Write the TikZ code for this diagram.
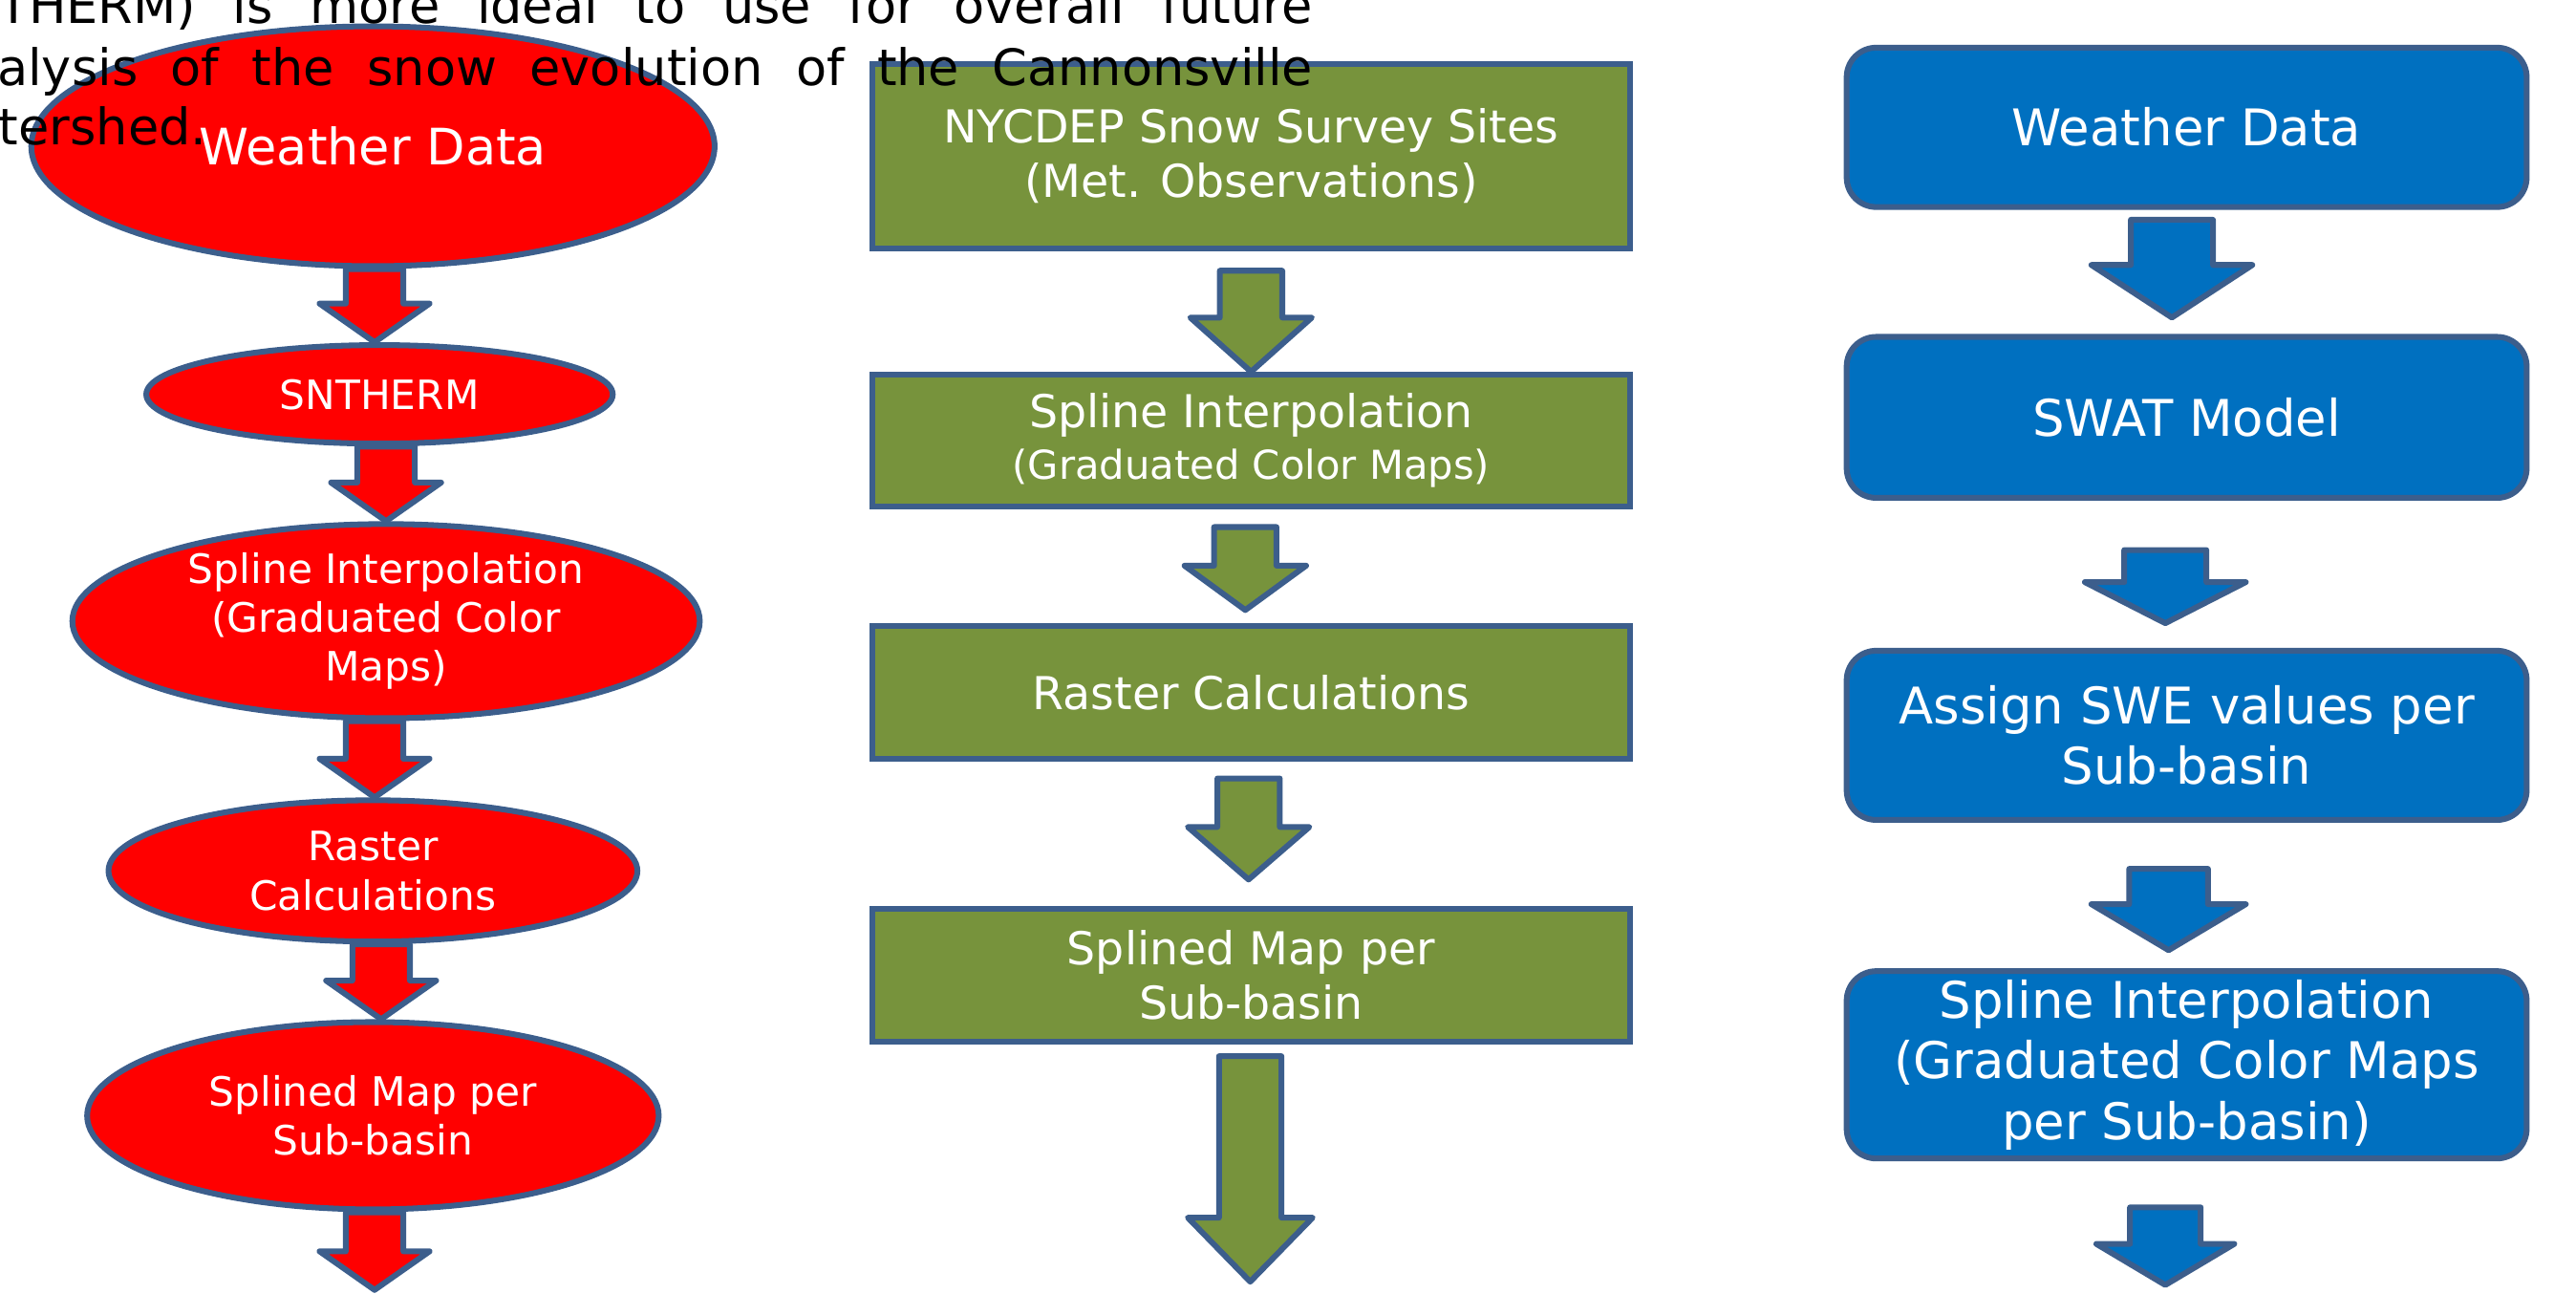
\documentclass[tikz,border=0pt]{standalone}
\usepackage{fontspec}
\setmainfont{DejaVu Sans}
\usetikzlibrary{calc,shapes.geometric}
\definecolor{edgeblue}{HTML}{3C5E8C}
\definecolor{boxgreen}{HTML}{77933C}
\definecolor{boxblue}{HTML}{0070C0}
% block arrow: [style](top)(tip)(shaft half width:head half width:head length)
\def\fatarrow[#1](#2)(#3)(#4:#5:#6){\draw[#1] let \p1=(#2), \p2=(#3) in (\x2-#4,\y1) -- (\x2+#4,\y1) -- (\x2+#4,\y2+#6) -- (\x2+#5,\y2+#6) -- (\x2,\y2) -- (\x2-#5,\y2+#6) -- (\x2-#4,\y2+#6) -- cycle;}

\begin{document}
\begin{tikzpicture}[x=0.02cm, y=-0.02cm,
	redell/.style={ellipse, draw=edgeblue, line width=2pt, fill=red, text=white, inner sep=0pt, align=center, font=\fontsize{14}{17}\selectfont},
	greenbox/.style={rectangle, draw=edgeblue, line width=2pt, fill=boxgreen, text=white, minimum width=9.22cm, inner sep=0pt, align=center, font=\fontsize{15.7}{18.8}\selectfont},
	bluebox/.style={rectangle, rounded corners=0.36cm, draw=edgeblue, line width=2pt, fill=boxblue, text=white, minimum width=8.28cm, inner sep=0pt, align=center, font=\fontsize{17.5}{21}\selectfont},
	redarr/.style={draw=edgeblue, line width=2pt, line join=round, fill=red},
	greenarr/.style={draw=edgeblue, line width=2pt, line join=round, fill=boxgreen},
	bluearr/.style={draw=edgeblue, line width=2pt, line join=round, fill=boxblue},
	para/.style={inner sep=0pt, font=\fontsize{17.4}{21}\selectfont}]
		\useasboundingbox (0,0) rectangle (1568,787);
		\clip (0,0) rectangle (1568,787);
		
		%%%%% SNTHERM column %%%%%
		\node[redell, minimum width=8.32cm, minimum height=2.92cm, font=\fontsize{17.4}{21}\selectfont] (e1) at (227,89) {Weather Data};
		\node[redell, minimum width=5.68cm, minimum height=1.2cm] (e2) at (231,240) {SNTHERM};
		\node[redell, minimum width=7.64cm, minimum height=2.36cm] (e3) at (235,378) {Spline Interpolation\\(Graduated Color\\Maps)};
		\node[redell, minimum width=6.44cm, minimum height=1.72cm] (e4) at (227,530) {Raster\\Calculations};
		\node[redell, minimum width=6.96cm, minimum height=2.28cm] (e5) at (227,679) {Splined Map per\\Sub-basin};
		\coordinate (e6) at (228,785);
		
		\fatarrow[redarr](e1.south)($(e2.north)+(-3,0)$)(0.35cm:0.67cm:0.47cm)
		\fatarrow[redarr](e2.south)(e3.north)(0.35cm:0.67cm:0.47cm)
		\fatarrow[redarr](e3.south)($(e4.north)+(1,0)$)(0.35cm:0.67cm:0.47cm)
		\fatarrow[redarr](e4.south)($(e5.north)+(5,0)$)(0.35cm:0.67cm:0.47cm)
		\fatarrow[redarr](e5.south)(e6)(0.35cm:0.67cm:0.47cm)
		
		%%%%% snow survey column %%%%%
		\node[greenbox, minimum height=2.24cm] (g1) at (761.5,95) {NYCDEP Snow Survey Sites\\(Met. Observations)};
		\node[greenbox, minimum height=1.6cm] (g2) at (761.5,268) {Spline Interpolation\\[-1pt]{\fontsize{13.8}{16}\selectfont (Graduated Color Maps)}};
		\node[greenbox, minimum height=1.62cm] (g3) at (761.5,421.5) {Raster Calculations};
		\node[greenbox, minimum height=1.62cm] (g4) at (761.5,593.5) {Splined Map per\\Sub-basin};
		\coordinate (g5) at (761,780);
		
		\fatarrow[greenarr]($(g1.south)+(0,12)$)(g2.north)(0.38cm:0.74cm:0.66cm)
		\fatarrow[greenarr]($(g2.south)+(0,11)$)($(g3.north)+(-3.5,-8)$)(0.38cm:0.74cm:0.54cm)
		\fatarrow[greenarr]($(g3.south)+(0,10)$)($(g4.north)+(-1.5,-16)$)(0.38cm:0.74cm:0.64cm)
		\fatarrow[greenarr]($(g4.south)+(0,7)$)(g5)(0.38cm:0.76cm:0.78cm)
		
		%%%%% SWAT column %%%%%
		\node[bluebox, minimum height=1.94cm] (b1) at (1331,77.5) {Weather Data};
		\node[bluebox, minimum height=1.96cm] (b2) at (1331,254) {SWAT Model};
		\node[bluebox, minimum height=2.06cm] (b3) at (1331,447.5) {Assign SWE values per\\Sub-basin};
		\node[bluebox, minimum height=2.28cm] (b4) at (1331,648) {Spline Interpolation\\(Graduated Color Maps\\per Sub-basin)};
		\coordinate (b5) at (1318,782);
		
		\fatarrow[bluearr]($(b1.south)+(0,6)$)($(b2.north)+(-9,-10)$)(0.5cm:0.98cm:0.64cm)
		\fatarrow[bluearr]($(b2.south)+(0,30)$)($(b3.north)+(-13,-15)$)(0.5cm:0.98cm:0.5cm)
		\fatarrow[bluearr]($(b3.south)+(0,28)$)($(b4.north)+(-11,-11)$)(0.48cm:0.94cm:0.56cm)
		\fatarrow[bluearr]($(b4.south)+(0,28)$)(b5)(0.43cm:0.84cm:0.5cm)
		
		%%%%% text from the page behind %%%%%
		\node[para, anchor=base west] (p1) at (-1.5,14.5) {\makebox[16.01cm][s]{THERM) is more ideal to use for overall future}};
		\node[para, anchor=base west] (p2) at (-2,52.3) {\makebox[16.02cm][s]{alysis of the snow evolution of the Cannonsville}};
		\node[para, anchor=base west] (p3) at (-1,88) {tershed.};
	\end{tikzpicture}
\end{document}
